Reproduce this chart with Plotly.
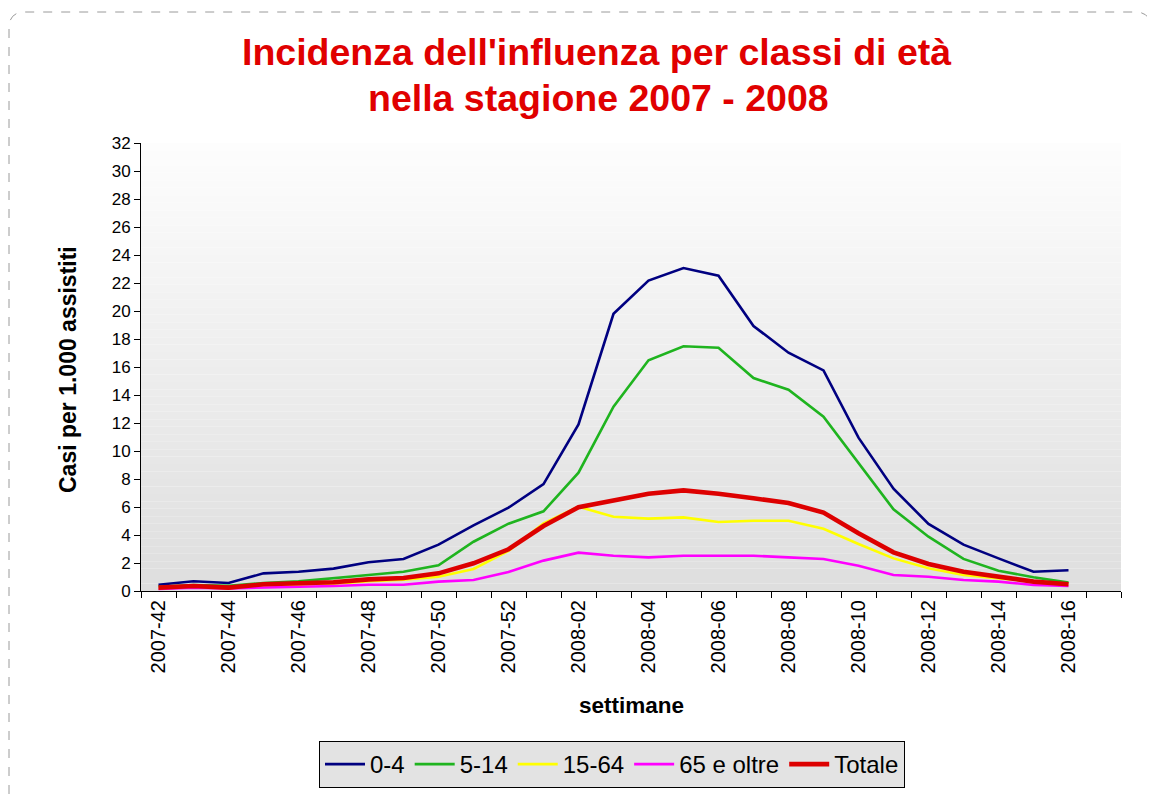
import plotly.graph_objects as go

weeks = ["2007-42", "2007-43", "2007-44", "2007-45", "2007-46", "2007-47", "2007-48",
         "2007-49", "2007-50", "2007-51", "2007-52", "2008-01", "2008-02", "2008-03",
         "2008-04", "2008-05", "2008-06", "2008-07", "2008-08", "2008-09", "2008-10",
         "2008-11", "2008-12", "2008-13", "2008-14", "2008-15", "2008-16", "2008-17"]
tick_labels = [w if i % 2 == 0 else "" for i, w in enumerate(weeks)]

age_0_4 = [0.45, 0.7, 0.57, 1.26, 1.38, 1.6, 2.05, 2.29, 3.31, 4.69, 5.95, 7.64, 11.9,
           19.8, 22.17, 23.07, 22.52, 18.93, 17.02, 15.76, 10.95, 7.31, 4.79, 3.31,
           2.33, 1.38, 1.48]
age_5_14 = [0.3, 0.43, 0.38, 0.57, 0.69, 0.9, 1.14, 1.38, 1.83, 3.52, 4.81, 5.69, 8.45,
            13.17, 16.48, 17.48, 17.38, 15.21, 14.38, 12.45, 9.12, 5.83, 3.88, 2.29,
            1.45, 0.98, 0.6]
age_15_64 = [0.2, 0.3, 0.2, 0.4, 0.45, 0.5, 0.7, 0.8, 1.02, 1.57, 2.86, 4.83, 6.02,
             5.3, 5.17, 5.26, 4.93, 5.02, 5.02, 4.45, 3.36, 2.33, 1.62, 1.14, 0.9,
             0.67, 0.48]
age_65_plus = [0.14, 0.24, 0.19, 0.24, 0.31, 0.36, 0.45, 0.45, 0.67, 0.79, 1.36, 2.17,
               2.74, 2.52, 2.4, 2.52, 2.52, 2.52, 2.4, 2.29, 1.81, 1.14, 1.02, 0.79,
               0.67, 0.43, 0.36]
totale = [0.24, 0.36, 0.24, 0.48, 0.55, 0.62, 0.83, 0.93, 1.26, 1.98, 2.98, 4.64, 5.98,
          6.5, 6.95, 7.19, 6.95, 6.62, 6.29, 5.6, 4.12, 2.76, 1.93, 1.38, 1.02, 0.67,
          0.48]

series = [
    ("0-4", age_0_4, "#000080", 2.6),
    ("5-14", age_5_14, "#1FB41F", 2.6),
    ("15-64", age_15_64, "#FFFF00", 2.6),
    ("65 e oltre", age_65_plus, "#FF00FF", 2.6),
    ("Totale", totale, "#DD0000", 4.6),
]

FONT = "Liberation Sans, Arial, sans-serif"
OFF = 8  # page body margin offset
W, H = 1155 - OFF, 794 - OFF
L, R, T, B = 141 - OFF, 34, 143 - OFF, 203
PW, PH = W - L - R, H - T - B


def px(xp):
    # xp: page pixel x (as in reference)
    return (xp - OFF - L) / PW


def py(yp):
    return (H - B - (yp - OFF)) / PH


fig = go.Figure()
n = len(age_0_4)
for name, vals, color, width in series:
    fig.add_trace(go.Scatter(
        x=weeks[:n], y=vals, mode="lines", name=name,
        line=dict(color=color, width=width),
    ))

# gradient background of the plot area
shapes = []
steps = 60
for k in range(steps):
    t = k / (steps - 1)
    c = int(round(253 - (253 - 222) * t))
    shapes.append(dict(
        type="rect", xref="x domain", yref="y domain",
        x0=0, x1=1, y0=1 - (k + 1) / steps, y1=1 - k / steps,
        fillcolor=f"rgb({c},{c},{c})", line=dict(width=0), layer="below",
    ))

# dashed rounded border of the chart object
x0b, y0b, x1b, y1b, rr = 9, 12, 1151, 812, 16
path = (f"M {px(x0b)},{py(y1b)} L {px(x0b)},{py(y0b + rr)} "
        f"Q {px(x0b)},{py(y0b)} {px(x0b + rr)},{py(y0b)} "
        f"L {px(x1b - rr)},{py(y0b)} "
        f"Q {px(x1b)},{py(y0b)} {px(x1b)},{py(y0b + rr)} "
        f"L {px(x1b)},{py(y1b)}")
shapes.append(dict(type="path", xref="paper", yref="paper", path=path,
                   line=dict(color="#9a9a9a", width=1, dash="dash")))

annotations = [
    dict(text="<b>Incidenza dell'influenza per classi di età</b>", x=px(596), y=py(52),
         xref="paper", yref="paper", showarrow=False, xanchor="center", yanchor="middle",
         font=dict(family=FONT, size=37.5, color="#E00000")),
    dict(text="<b>nella stagione 2007 - 2008</b>", x=px(598), y=py(98),
         xref="paper", yref="paper", showarrow=False, xanchor="center", yanchor="middle",
         font=dict(family=FONT, size=37.5, color="#E00000")),
    dict(text="<b>settimane</b>", x=px(631), y=py(705),
         xref="paper", yref="paper", showarrow=False, xanchor="center", yanchor="middle",
         font=dict(family=FONT, size=22.5, color="black")),
    dict(text="<b>Casi per 1.000 assistiti</b>", x=px(68), y=py(370), textangle=-90,
         xref="paper", yref="paper", showarrow=False, xanchor="center", yanchor="middle",
         font=dict(family=FONT, size=23, color="black")),
]

fig.update_layout(
    width=W, height=H,
    margin=dict(l=L, r=R, t=T, b=B, autoexpand=False),
    paper_bgcolor="white", plot_bgcolor="rgba(0,0,0,0)",
    font=dict(family=FONT, color="black"),
    shapes=shapes, annotations=annotations,
    showlegend=True,
    legend=dict(
        orientation="h", x=px(612), y=py(741), xanchor="center", yanchor="top",
        bgcolor="#E3E3E3", bordercolor="black", borderwidth=1,
        font=dict(family=FONT, size=24, color="black"),
        itemwidth=40, tracegroupgap=0,
    ),
    xaxis=dict(
        type="category", categoryorder="array", categoryarray=weeks,
        range=[-0.5, len(weeks) - 0.5],
        tickmode="array", tickvals=weeks, ticktext=tick_labels,
        tickson="boundaries", ticks="outside", ticklen=6, tickcolor="black",
        tickangle=-90, tickfont=dict(family=FONT, size=20, color="black"),
        showline=True, linecolor="black", linewidth=1, showgrid=False, zeroline=False,
    ),
    yaxis=dict(
        range=[0, 32], dtick=2, tick0=0,
        ticks="outside", ticklen=6, tickcolor="black",
        tickfont=dict(family=FONT, size=17, color="black"),
        showline=True, linecolor="black", linewidth=1, showgrid=False, zeroline=False,
    ),
)

fig.write_html("out.html")
